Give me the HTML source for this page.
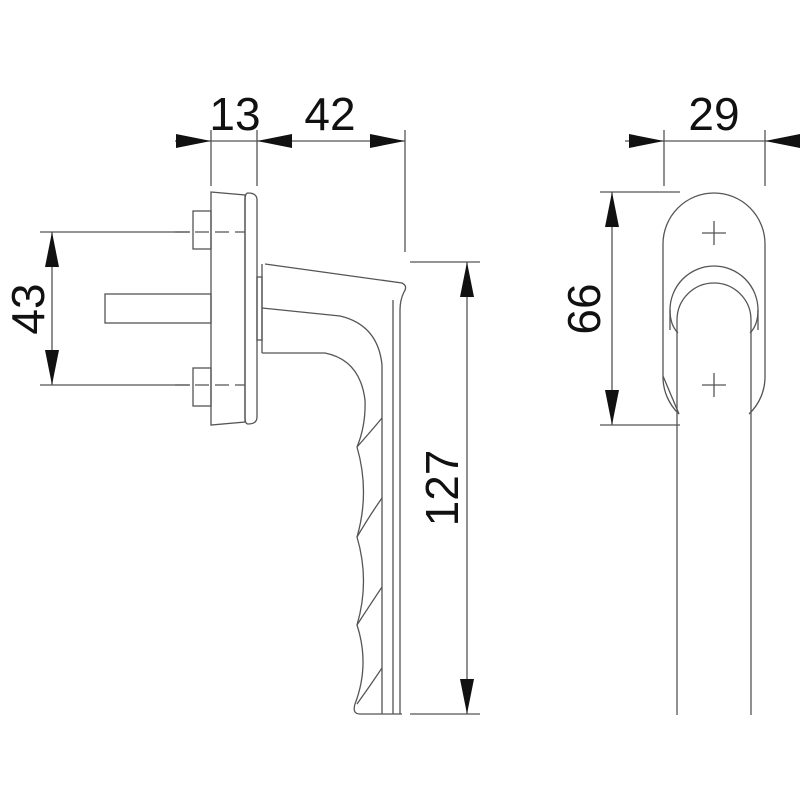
<!DOCTYPE html>
<html><head><style>body{margin:0;background:#fff}svg{display:block}</style></head><body>
<svg width="800" height="800" viewBox="0 0 800 800" xmlns="http://www.w3.org/2000/svg">
<g fill="none" stroke="#555" stroke-width="1.3">
<!-- dimension extension lines -->
<line x1="211" y1="130" x2="211" y2="186"/>
<line x1="257" y1="130" x2="257" y2="186"/>
<line x1="405" y1="130" x2="405" y2="252"/>
<line x1="664" y1="130" x2="664" y2="186"/>
<line x1="765" y1="130" x2="765" y2="186"/>
<line x1="175" y1="141" x2="405" y2="141"/>
<line x1="625" y1="141" x2="800" y2="141"/>
<line x1="600" y1="192" x2="680" y2="192"/>
<line x1="600" y1="425" x2="680" y2="425"/>
<line x1="612" y1="192" x2="612" y2="425"/>
<line x1="40" y1="232" x2="190" y2="232"/>
<line x1="40" y1="385" x2="190" y2="385"/>
<line x1="52" y1="232" x2="52" y2="385"/>
<line x1="410" y1="262" x2="480" y2="262"/>
<line x1="410" y1="714" x2="480" y2="714"/>
<line x1="467" y1="262" x2="467" y2="714"/>
<!-- dashed centerlines -->
<line x1="175" y1="232" x2="245" y2="232" stroke-dasharray="14,6"/>
<line x1="175" y1="385" x2="245" y2="385" stroke-dasharray="14,6"/>
<!-- rosette side -->
<path d="M211 192 L245 195 L245 422 L211 425 Z"/>
<path d="M248 193 Q257 193 257 200 L257 417 Q257 424 248 424 Q245 424 245 417 L245 200 Q245 193 248 193 Z"/>
<rect x="193" y="211" width="18" height="38"/>
<rect x="193" y="368" width="18" height="38"/>
<rect x="105" y="294" width="106" height="29"/>
<!-- handle side -->
<rect x="257" y="277" width="5" height="63"/>
<path d="M265 264 L402 283 Q408 286 404 292 Q400 300 400 310 L400 714"/>
<path d="M262 264 L262 353"/>
<path d="M262 308 L340 316 Q378 325 382 365 L382 714"/>
<path d="M262 353 L325 353 Q360 360 365 400 Q366 425 357 447"/>
<line x1="393" y1="300" x2="393" y2="714"/>
<path d="M357 447 Q370 492 357 537 Q370 581 357 625 Q370 665 355 704 Q352 714 360 714 L402 714"/>
<path d="M357 447 Q372 430 382 418 M357 537 Q370 515 382 498 M357 625 Q370 605 382 587 M357 704 Q370 686 382 668"/>
<!-- front view -->
<path d="M663 244 A51 51 0 0 1 765 244 L765 376 A51 51 0 0 1 749 414 M679 414 A51 51 0 0 1 663 376 Z"/>
<path d="M663 244 L663 376"/>
<path d="M670 330 L670 310 A44 44 0 0 1 758 310 L758 330"/>
<path d="M677 715 L677 320 A37 37 0 0 1 751 320 L751 715"/>
<path d="M670 310 Q670 325 678 333 M758 310 Q758 325 750 333"/>
<line x1="702" y1="233" x2="726" y2="233"/><line x1="714" y1="221" x2="714" y2="245"/>
<line x1="702" y1="385" x2="726" y2="385"/><line x1="714" y1="373" x2="714" y2="397"/>
</g>
<!-- arrowheads -->
<g fill="#111">
<polygon points="211,141 176,134 176,148"/>
<polygon points="257,141 292,134 292,148"/>
<polygon points="405,141 370,134 370,148"/>
<polygon points="664,141 629,134 629,148"/>
<polygon points="765,141 800,134 800,148"/>
<polygon points="612,192 605,227 619,227"/>
<polygon points="612,425 605,390 619,390"/>
<polygon points="52,232 45,267 59,267"/>
<polygon points="52,385 45,350 59,350"/>
<polygon points="467,262 460,297 474,297"/>
<polygon points="467,714 460,679 474,679"/>
</g>
<g font-family="Liberation Sans, Arial, sans-serif" font-size="46" fill="#111" text-anchor="middle">
<text x="235" y="130">13</text>
<text x="330" y="130">42</text>
<text x="714" y="130">29</text>
<text transform="translate(600,309) rotate(-90)">66</text>
<text transform="translate(44,309) rotate(-90)">43</text>
<text transform="translate(458,488) rotate(-90)">127</text>
</g>
</svg>
</body></html>
